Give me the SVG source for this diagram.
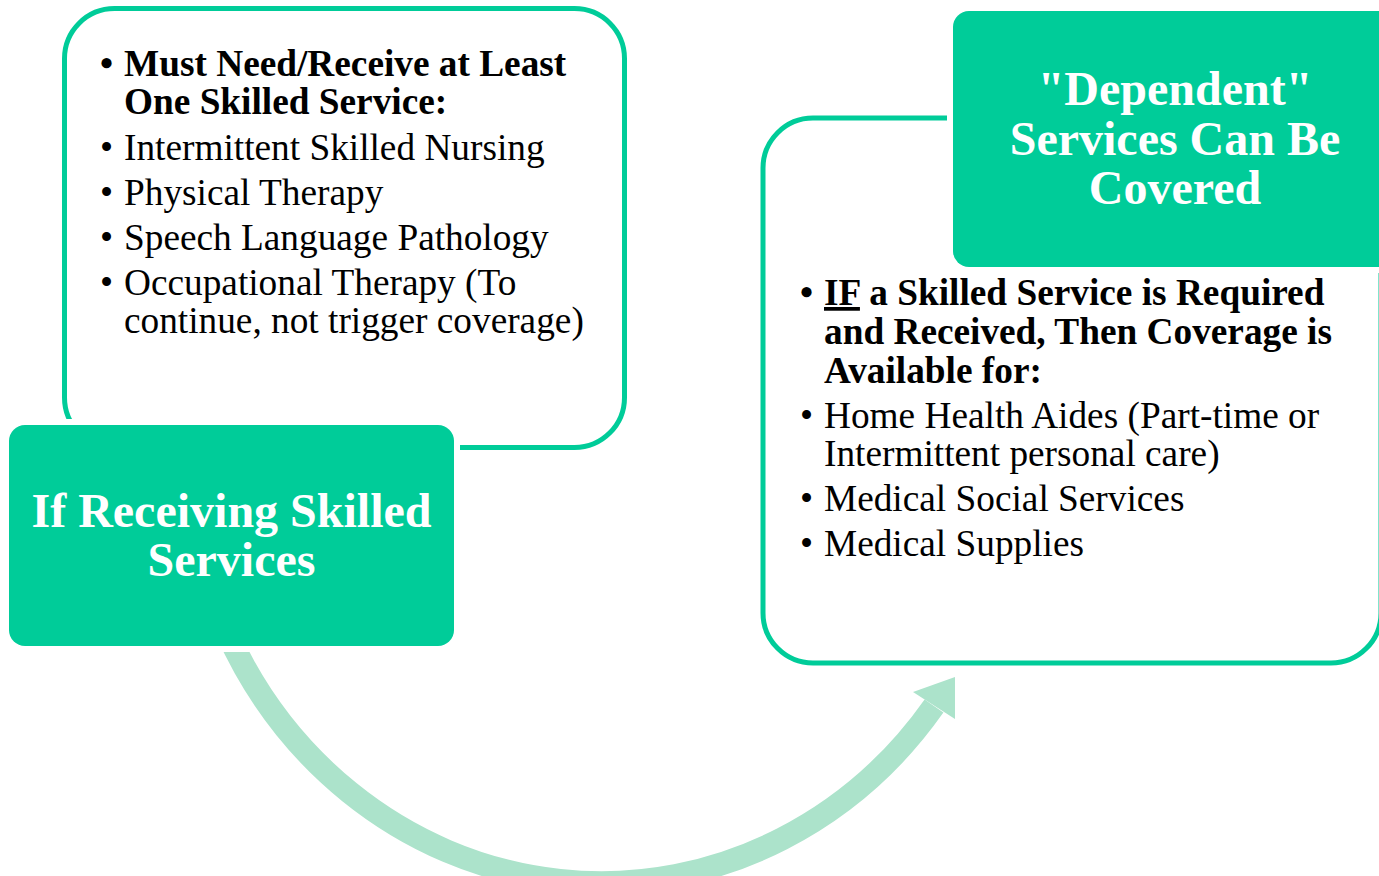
<svg xmlns="http://www.w3.org/2000/svg" width="1379" height="876" viewBox="0 0 1379 876">
  <style>
    .frame { fill: #FFFFFF; stroke: #00CC99; stroke-width: 5; }
    .halo { fill: #FFFFFF; }
    .block { fill: #00CC99; }
    .title { font-family: "Liberation Serif", "Times New Roman", serif; font-weight: bold; font-size: 48px; fill: #FFFFFF; text-anchor: middle; }
    .body { font-family: "Liberation Serif", "Times New Roman", serif; font-size: 37.3px; fill: #000000; }
    .strong { font-weight: bold; }
    .flow { fill: none; stroke: #ACE3CB; stroke-width: 23; }
    .head { fill: #ACE3CB; }
  </style>

  <!-- Left detail panel -->
  <g id="skilled-list">
    <rect class="frame" x="64.5" y="8.5" width="560" height="439" rx="50" ry="50"/>
    <text class="body strong" x="100" y="76">•</text>
    <text class="body strong" x="124" y="76">Must Need/Receive at Least</text>
    <text class="body strong" x="124" y="114">One Skilled Service:</text>
    <text class="body" x="100" y="160">•</text>
    <text class="body" x="124" y="160">Intermittent Skilled Nursing</text>
    <text class="body" x="100" y="205">•</text>
    <text class="body" x="124" y="205">Physical Therapy</text>
    <text class="body" x="100" y="250">•</text>
    <text class="body" x="124" y="250">Speech Language Pathology</text>
    <text class="body" x="100" y="295">•</text>
    <text class="body" x="124" y="295">Occupational Therapy (To</text>
    <text class="body" x="124" y="333">continue, not trigger coverage)</text>
  </g>

  <!-- Curved flow arrow from the left block to the right panel -->
  <g id="connectors">
    <path class="flow" d="M226,630 A 415 440 0 0 0 934,706"/>
    <polygon class="head" points="913,692 955,677 955,719"/>
  </g>

  <!-- Left heading block -->
  <g id="if-receiving">
    <rect class="halo" x="3" y="419" width="457" height="233" rx="22" ry="22"/>
    <rect class="block" x="9" y="425" width="445" height="221" rx="16" ry="16"/>
    <text class="title" x="231.5" y="527">If Receiving Skilled</text>
    <text class="title" x="231.5" y="576">Services</text>
  </g>

  <!-- Right detail panel -->
  <g id="coverage-list">
    <rect class="frame" x="763" y="118" width="618" height="545" rx="50" ry="50"/>
    <text class="body strong" x="800" y="305">•</text>
    <text class="body strong" x="824" y="305"><tspan text-decoration="underline">IF</tspan> a Skilled Service is Required</text>
    <text class="body strong" x="824" y="344">and Received, Then Coverage is</text>
    <text class="body strong" x="824" y="383">Available for:</text>
    <text class="body" x="800" y="428">•</text>
    <text class="body" x="824" y="428">Home Health Aides (Part-time or</text>
    <text class="body" x="824" y="466">Intermittent personal care)</text>
    <text class="body" x="800" y="511">•</text>
    <text class="body" x="824" y="511">Medical Social Services</text>
    <text class="body" x="800" y="556">•</text>
    <text class="body" x="824" y="556">Medical Supplies</text>
  </g>

  <!-- Right heading block -->
  <g id="dependent-services">
    <rect class="halo" x="947" y="5" width="462" height="268" rx="22" ry="22"/>
    <rect class="block" x="953" y="11" width="450" height="256" rx="16" ry="16"/>
    <text class="title" x="1175" y="105">"Dependent"</text>
    <text class="title" x="1175" y="155">Services Can Be</text>
    <text class="title" x="1175" y="204">Covered</text>
  </g>
</svg>
